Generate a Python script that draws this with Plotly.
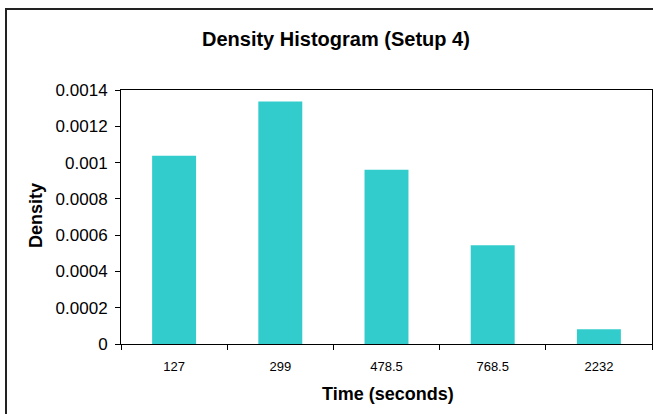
import plotly.graph_objects as go

# Histogram bins (representative time of each bin) and their densities
categories = ["127", "299", "478.5", "768.5", "2232"]
densities = [0.001037, 0.001337, 0.000960, 0.000544, 0.0000812]

# Y-axis ticks
y_tick_values = [0, 0.0002, 0.0004, 0.0006, 0.0008, 0.001, 0.0012, 0.0014]
y_tick_labels = ["0", "0.0002", "0.0004", "0.0006", "0.0008", "0.001", "0.0012", "0.0014"]

FONT = "Liberation Sans, Arial, sans-serif"
W, H = 653, 414
ML, MR, MT, MB = 121, 1, 90, 70

fig = go.Figure(
    go.Bar(
        x=categories,
        y=densities,
        marker=dict(color="#33CCCC", line=dict(width=0)),
        hoverinfo="x+y",
    )
)

pw = W - ML - MR
ph = H - MT - MB


def px_x(x):
    return (x - ML) / pw


def px_y(y):
    return (H - MB - y) / ph


fig.update_layout(
    width=W,
    height=H,
    margin=dict(l=ML, r=MR, t=MT, b=MB),
    paper_bgcolor="white",
    plot_bgcolor="white",
    bargap=0.586,
    showlegend=False,
    font=dict(family=FONT, color="black"),
    xaxis=dict(
        type="category",
        showline=True,
        linecolor="black",
        linewidth=1,
        mirror=True,
        ticks="outside",
        tickson="boundaries",
        ticklen=5,
        tickcolor="black",
        tickfont=dict(size=13, family=FONT, color="black"),
        ticklabelstandoff=10,
        showgrid=False,
        zeroline=False,
    ),
    yaxis=dict(
        range=[0, 0.0014],
        tickvals=y_tick_values,
        ticktext=y_tick_labels,
        showline=True,
        linecolor="black",
        linewidth=1,
        mirror=True,
        ticks="outside",
        ticklen=5,
        tickcolor="black",
        tickfont=dict(size=17, family=FONT, color="black"),
        ticklabelstandoff=4,
        showgrid=False,
        zeroline=False,
    ),
    annotations=[
        dict(
            text="<b>Density Histogram (Setup 4)</b>",
            xref="paper", yref="paper",
            x=px_x(336), y=px_y(39.5),
            xanchor="center", yanchor="middle",
            showarrow=False,
            font=dict(size=20, family=FONT, color="black"),
        ),
        dict(
            text="<b>Time (seconds)</b>",
            xref="paper", yref="paper",
            x=px_x(388), y=px_y(394),
            xanchor="center", yanchor="middle",
            showarrow=False,
            font=dict(size=18, family=FONT, color="black"),
        ),
        dict(
            text="<b>Density</b>",
            xref="paper", yref="paper",
            x=px_x(36), y=px_y(216),
            xanchor="center", yanchor="middle",
            textangle=-90,
            showarrow=False,
            font=dict(size=18, family=FONT, color="black"),
        ),
    ],
    shapes=[
        # outer chart frame
        dict(
            type="rect",
            xref="paper", yref="paper",
            x0=px_x(6), x1=px_x(668),
            y0=px_y(420), y1=px_y(9),
            line=dict(color="#222222", width=2),
            fillcolor="rgba(0,0,0,0)",
            layer="above",
        ),
    ],
)

fig.write_html("out.html")
